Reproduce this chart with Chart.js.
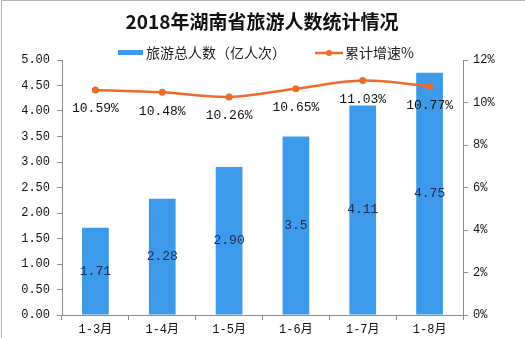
<!DOCTYPE html>
<html>
<head>
<meta charset="utf-8">
<script src="https://cdn.jsdelivr.net/npm/chart.js@4"></script>
<style>
  html, body { margin: 0; padding: 0; background: #fff; }
  #wrap { width: 525px; height: 338px; }
</style>
</head>
<body>
<div id="wrap"><canvas id="chart" width="525" height="338"></canvas></div>
<script>
const months = ["1-3月", "1-4月", "1-5月", "1-6月", "1-7月", "1-8月"];
const visitors = [1.71, 2.28, 2.90, 3.5, 4.11, 4.75];
const visitorLabels = ["1.71", "2.28", "2.90", "3.5", "4.11", "4.75"];
const growth = [10.59, 10.48, 10.26, 10.65, 11.03, 10.77];
const growthLabels = ["10.59%", "10.48%", "10.26%", "10.65%", "11.03%", "10.77%"];

const titleText = "2018年湖南省旅游人数统计情况";
const barName = "旅游总人数（亿人次）";
const lineName = "累计增速%";

const BLUE = "#3d9aea";
const ORANGE = "#ee6b2c";
const AXIS = "#8c8c8c";
const MONO = "'Liberation Mono', 'Noto Sans CJK SC', monospace";
const CJK = "'Noto Sans CJK SC', sans-serif";

// title, legend and value labels are painted by hand
const decorations = {
  id: "decorations",
  afterDatasetsDraw(chart) {
    const ctx = chart.ctx;
    ctx.save();

    ctx.fillStyle = "#111";
    ctx.font = "bold 19px " + CJK;
    ctx.textAlign = "center";
    ctx.textBaseline = "middle";
    ctx.fillText(titleText, 262, 22);

    // legend
    ctx.font = "14px " + CJK;
    ctx.textAlign = "left";
    ctx.fillStyle = BLUE;
    ctx.fillRect(118, 50, 25, 5);
    ctx.fillStyle = "#222";
    ctx.fillText(barName, 146, 53);
    ctx.strokeStyle = ORANGE;
    ctx.lineWidth = 2.5;
    ctx.beginPath();
    ctx.moveTo(315, 53);
    ctx.lineTo(343, 53);
    ctx.stroke();
    ctx.fillStyle = ORANGE;
    ctx.beginPath();
    ctx.arc(329, 53, 3, 0, Math.PI * 2);
    ctx.fill();
    ctx.fillStyle = "#222";
    ctx.fillText(lineName, 345, 53);

    // bar values, centred inside each bar
    ctx.font = "13px " + MONO;
    ctx.textAlign = "center";
    ctx.fillStyle = "#1c2b57";
    chart.getDatasetMeta(1).data.forEach((bar, i) => {
      ctx.fillText(visitorLabels[i], bar.x, (bar.y + bar.base) / 2);
    });

    // growth values under the points
    ctx.fillStyle = "#111";
    chart.getDatasetMeta(0).data.forEach((pt, i) => {
      ctx.fillText(growthLabels[i], pt.x, pt.y + 19);
    });

    // thin frame on the left and top edges
    ctx.strokeStyle = "#b4b4b4";
    ctx.lineWidth = 1;
    ctx.beginPath();
    ctx.moveTo(1.5, 338);
    ctx.lineTo(1.5, 0.5);
    ctx.lineTo(525, 0.5);
    ctx.stroke();
    ctx.restore();
  }
};

new Chart(document.getElementById("chart"), {
  data: {
    labels: months,
    datasets: [
      {
        type: "line",
        label: lineName,
        data: growth,
        yAxisID: "y1",
        borderColor: ORANGE,
        backgroundColor: ORANGE,
        borderWidth: 2.5,
        pointRadius: 3.5,
        pointBackgroundColor: ORANGE,
        pointBorderWidth: 0,
        tension: 0.35,
        order: 0
      },
      {
        type: "bar",
        label: barName,
        data: visitors,
        yAxisID: "y",
        backgroundColor: BLUE,
        barPercentage: 0.8,
        categoryPercentage: 0.5,
        order: 1
      }
    ]
  },
  options: {
    responsive: false,
    animation: false,
    layout: { padding: { top: 60, left: 0, right: 0, bottom: 0 } },
    plugins: {
      legend: { display: false },
      title: { display: false },
      tooltip: { enabled: false }
    },
    scales: {
      x: {
        grid: { offset: true, drawOnChartArea: false, tickLength: 5, color: AXIS },
        border: { color: AXIS },
        ticks: { color: "#111", font: { family: MONO, size: 12 }, padding: 3 },
        afterFit: s => { s.height = 23; }
      },
      y: {
        position: "left",
        min: 0,
        max: 5,
        grid: { drawOnChartArea: false, tickLength: 5, color: AXIS },
        border: { color: AXIS },
        ticks: {
          stepSize: 0.5,
          color: "#111",
          padding: 7,
          font: { family: MONO, size: 12 },
          callback: v => v.toFixed(2)
        },
        afterFit: s => { s.width = 62; }
      },
      y1: {
        position: "right",
        min: 0,
        max: 12,
        grid: { drawOnChartArea: false, tickLength: 5, color: AXIS },
        border: { color: AXIS },
        ticks: {
          stepSize: 2,
          color: "#111",
          padding: 5,
          font: { family: MONO, size: 12 },
          callback: v => v + "%"
        },
        afterFit: s => { s.width = 62; }
      }
    }
  },
  plugins: [decorations]
});
</script>
</body>
</html>
